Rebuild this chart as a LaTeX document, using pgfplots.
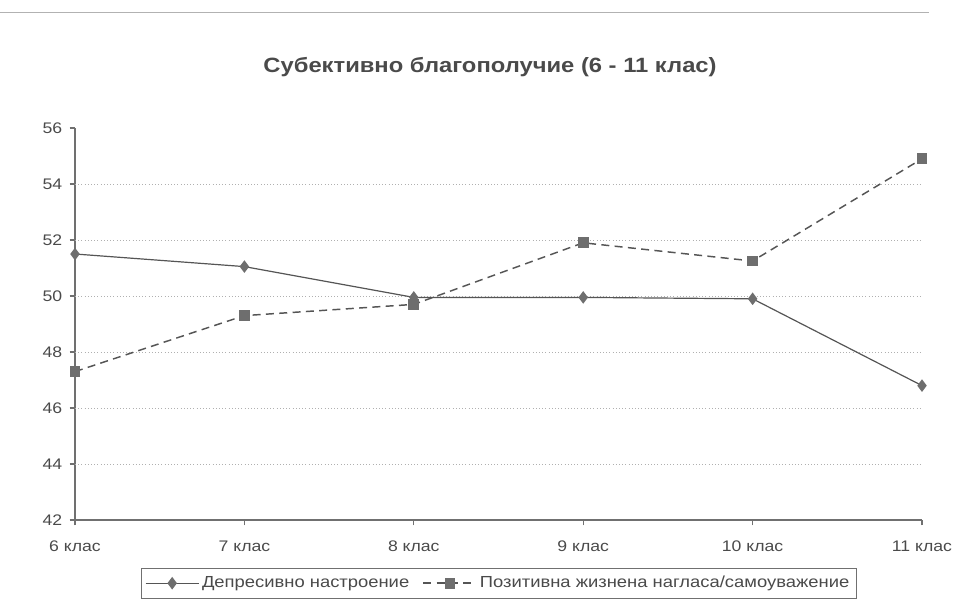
\documentclass[border=0pt]{standalone}
\usepackage{fontspec}
\setmainfont[FakeStretch=1.15]{Liberation Sans}
\usepackage{pgfplots}
\pgfplotsset{compat=1.18}
\definecolor{axgray}{HTML}{707070}
\definecolor{linegray}{HTML}{555555}
\definecolor{markgray}{HTML}{6E6E6E}
\definecolor{txtgray}{HTML}{4A4A4A}
\definecolor{gridgray}{HTML}{B0B0B0}
\begin{document}
\begin{tikzpicture}
\begin{axis}[
  at={(0,0)}, anchor=south west,
  scale only axis,
  width=635.25pt, height=294pt,
  xmin=0, xmax=5, ymin=42, ymax=56,
  xtick={0,...,5},
  xticklabels={6 клас,7 клас,8 клас,9 клас,10 клас,11 клас},
  ytick={42,44,...,56},
  extra y ticks={44,46,...,54},
  extra y tick labels={},
  extra y tick style={grid=major, major tick length=0pt},
  grid style={gridgray, dotted, line width=0.7pt},
  axis x line*=bottom, axis y line*=left,
  axis line style={axgray, line width=0.9pt},
  tick style={axgray, line width=0.8pt},
  tick align=outside,
  major tick length=4pt,
  /pgf/number format/assume math mode=true,
  ticklabel style={font=\fontsize{11.5}{13}\selectfont, text=txtgray},
  xticklabel style={anchor=center, yshift=-16pt},
  yticklabel style={xshift=-2pt},
  legend style={at={(0.5,-0.1224)}, anchor=north, draw=axgray, line width=0.6pt,
    font=\fontsize{12}{14}\selectfont, text=txtgray, inner xsep=3pt, inner ysep=4pt,
    /tikz/every even column/.append style={column sep=8pt}},
  legend columns=2,
  legend cell align=left,
  legend image code/.code={\draw[mark repeat=2,mark phase=2,#1] plot coordinates {(0cm,0cm) (0.7cm,0cm) (1.4cm,0cm)};},
  clip=false,
]
\addplot[linegray, line width=0.9pt, mark=diamond*, mark size=4pt,
  mark options={fill=markgray, draw=markgray, solid}]
  coordinates {(0,51.5) (1,51.05) (2,49.95) (3,49.95) (4,49.9) (5,46.8)};
\addlegendentry{Депресивно настроение}
\addplot[linegray, line width=1.1pt, dash pattern=on 6pt off 4pt, mark=square*, mark size=3.5pt,
  mark options={fill=markgray, draw=markgray, solid}]
  coordinates {(0,47.3) (1,49.3) (2,49.7) (3,51.9) (4,51.25) (5,54.9)};
\addlegendentry{Позитивна жизнена нагласа/самоуважение}
\node[font=\bfseries\fontsize{15.5}{18}\selectfont, text=txtgray] at (rel axis cs:0.49,1) [yshift=46pt] {Субективно благополучие (6 - 11 клас)};
\coordinate (ll) at (rel axis cs:0,0);
\coordinate (ur) at (rel axis cs:1,1);
\end{axis}
\pgfresetboundingbox
\path[use as bounding box] ([shift={(-56.25pt,-68.25pt)}]ll) rectangle ([shift={(33.75pt,96pt)}]ur);
\draw[gray!60, line width=0.6pt] ([shift={(-56.25pt,87pt)}]ll|-ur) -- ([shift={(5pt,87pt)}]ur);
\end{tikzpicture}
\end{document}
